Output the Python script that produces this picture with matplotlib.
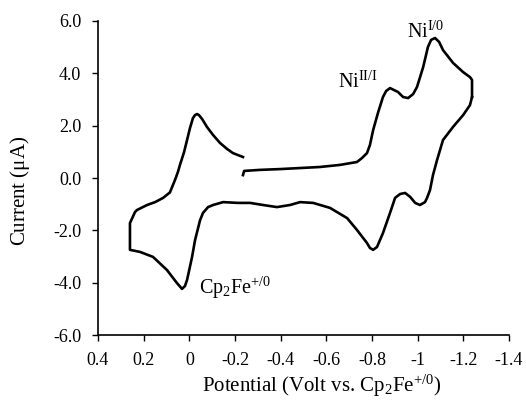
import matplotlib
matplotlib.use("Agg")
import matplotlib.pyplot as plt

# cathodic sweep (start -> switching potential at -1.24 V)
E_FWD = [-0.235, -0.240, -0.310, -0.397, -0.572, -0.660, -0.734, -0.756, -0.778, -0.791,
         -0.805, -0.826, -0.848, -0.862, -0.879, -0.914, -0.936, -0.958, -0.980, -0.997,
         -1.024, -1.045, -1.059, -1.076, -1.094, -1.111, -1.155, -1.199, -1.229, -1.238,
         -1.238]
I_FWD = [0.11, 0.27, 0.31, 0.34, 0.42, 0.50, 0.61, 0.76, 0.95, 1.26,
         1.83, 2.48, 3.09, 3.32, 3.43, 3.28, 3.09, 3.05, 3.20, 3.47,
         4.23, 5.00, 5.27, 5.34, 5.19, 4.88, 4.39, 4.04, 3.85, 3.74,
         3.09]

# anodic return sweep (-1.24 V -> +0.27 V -> back to -0.24 V)
E_REV = [-1.238, -1.229, -1.199, -1.155, -1.111, -1.085, -1.067, -1.054, -1.041, -1.032,
         -1.010, -0.989, -0.967, -0.945, -0.923, -0.901, -0.879, -0.848, -0.822, -0.805,
         -0.791, -0.778, -0.734, -0.691, -0.616, -0.542, -0.485, -0.441, -0.384, -0.323,
         -0.266, -0.213, -0.148, -0.104, -0.082, -0.060, -0.047, -0.025, -0.012, 0.010,
         0.019, 0.032, 0.054, 0.098, 0.159, 0.216, 0.260, 0.260, 0.238, 0.229,
         0.185, 0.150, 0.115, 0.085, 0.063, 0.050, 0.041, 0.023, 0.010, -0.003,
         -0.016, -0.025, -0.034, -0.042, -0.056, -0.077, -0.104, -0.134, -0.165, -0.191,
         -0.235]
I_REV = [3.09, 2.78, 2.40, 1.95, 1.45, 0.69, 0.11, -0.46, -0.76, -0.92,
         -1.03, -0.95, -0.72, -0.57, -0.61, -0.76, -1.33, -2.10, -2.63, -2.74,
         -2.67, -2.48, -1.98, -1.53, -1.14, -0.95, -0.92, -1.03, -1.11, -1.03,
         -0.95, -0.95, -0.92, -1.03, -1.11, -1.33, -1.61, -2.37, -3.01, -3.89,
         -4.12, -4.23, -4.01, -3.51, -3.01, -2.82, -2.74, -1.72, -1.30, -1.22,
         -1.03, -0.92, -0.76, -0.55, -0.08, 0.23, 0.50, 0.99, 1.45, 1.91,
         2.29, 2.40, 2.44, 2.40, 2.25, 1.95, 1.64, 1.34, 1.11, 0.95,
         0.80]

XTICKS = [0.4, 0.2, 0, -0.2, -0.4, -0.6, -0.8, -1, -1.2, -1.4]
XTICK_LABELS = ["0.4", "0.2", "0", "-0.2", "-0.4", "-0.6", "-0.8", "-1", "-1.2", "-1.4"]
YTICKS = [6, 4, 2, 0, -2, -4, -6]
YTICK_LABELS = ["6.0", "4.0", "2.0", "0.0", "-2.0", "-4.0", "-6.0"]

plt.rcParams["font.family"] = ["Liberation Serif", "DejaVu Serif"]
plt.rcParams["mathtext.fontset"] = "custom"
plt.rcParams["mathtext.rm"] = "Liberation Serif"
plt.rcParams["mathtext.it"] = "Liberation Serif:italic"

fig = plt.figure(figsize=(5.26, 4.0), dpi=100)
ax = fig.add_axes([0.1863, 0.1618, 0.7814, 0.7864])

ax.plot(E_FWD, I_FWD, color="black", linewidth=1.9, solid_joinstyle="round")
ax.plot(E_REV, I_REV, color="black", linewidth=1.9, solid_joinstyle="round")

ax.set_xlim(0.4, -1.4)
ax.set_ylim(-6, 6)
ax.set_xticks(XTICKS)
ax.set_xticklabels(XTICK_LABELS)
ax.set_yticks(YTICKS)
ax.set_yticklabels(YTICK_LABELS)
ax.tick_params(direction="out", length=4, width=1, labelsize=13, pad=8)

for side in ["top", "right"]:
    ax.spines[side].set_visible(False)
for side in ["left", "bottom"]:
    ax.spines[side].set_linewidth(1.2)

ax.text(-0.651, 3.43, r"Ni$^{\mathrm{II/I}}$", fontsize=14.5, ha="left", va="baseline")
ax.text(-0.953, 5.34, r"Ni$^{\mathrm{I/0}}$", fontsize=14.5, ha="left", va="baseline")
ax.text(-0.042, -4.42, r"Cp$_{2}$Fe$^{+/0}$", fontsize=14.5, ha="left", va="baseline")

ax.set_xlabel(r"Potential (Volt vs. Cp$_{2}$Fe$^{+/0}$)", fontsize=15)
ax.set_ylabel(r"Current ($\mathrm{\mu}$A)", fontsize=15)
ax.xaxis.set_label_coords(0.545, -0.12)
ax.yaxis.set_label_coords(-0.16, 0.46)

fig.savefig("out.png", dpi=100)
